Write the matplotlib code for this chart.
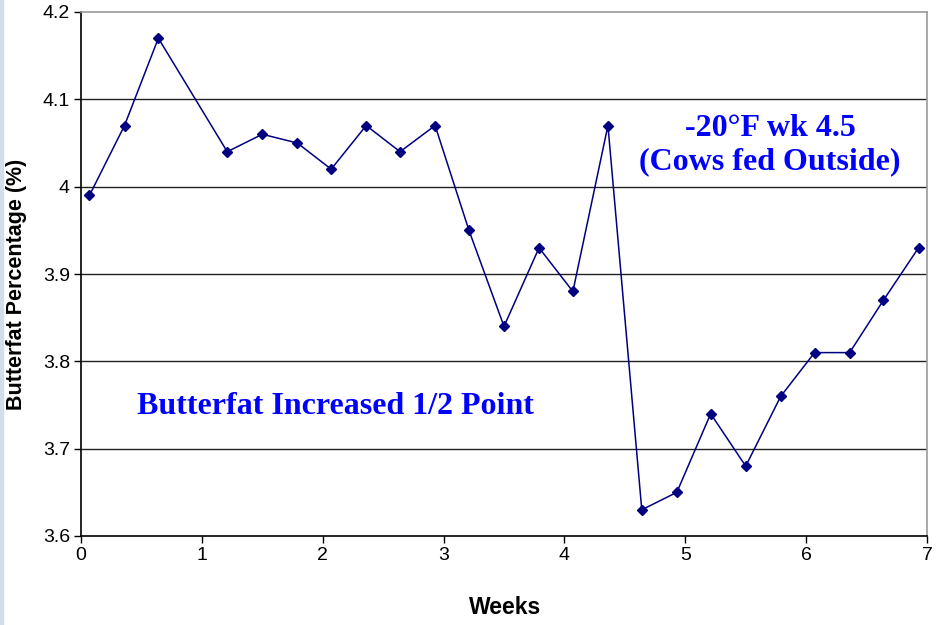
import matplotlib
matplotlib.use("Agg")
import matplotlib.pyplot as plt
from matplotlib.patches import Rectangle

weeks = [0.07, 0.36, 0.64, 1.21, 1.5, 1.79, 2.07, 2.36, 2.64, 2.93, 3.21, 3.5,
         3.79, 4.07, 4.36, 4.64, 4.93, 5.21, 5.5, 5.79, 6.07, 6.36, 6.64, 6.93]
butterfat = [3.99, 4.07, 4.17, 4.04, 4.06, 4.05, 4.02, 4.07, 4.04, 4.07, 3.95, 3.84,
             3.93, 3.88, 4.07, 3.63, 3.65, 3.74, 3.68, 3.76, 3.81, 3.81, 3.87, 3.93]
xticks = [0, 1, 2, 3, 4, 5, 6, 7]
yticks = [3.6, 3.7, 3.8, 3.9, 4.0, 4.1, 4.2]
ytick_labels = ["3.6", "3.7", "3.8", "3.9", "4", "4.1", "4.2"]

fig = plt.figure(figsize=(9.4, 6.25), dpi=100)
fig.patches.append(Rectangle((0, 0), 3 / 940, 1, transform=fig.transFigure,
                             color="#d3dcea", zorder=0))
ax = fig.add_axes([81 / 940, 1 - 536 / 625, (927 - 81) / 940, (536 - 12) / 625])

ax.plot(weeks, butterfat, color="#000080", lw=1.1, marker="D", ms=5.2,
        mfc="#000080", mec="#000080", zorder=3)

ax.set_xlim(0, 7)
ax.set_ylim(3.6, 4.2)
ax.set_xticks(xticks)
ax.set_yticks(yticks)
ax.set_yticklabels(ytick_labels)
for y in yticks[1:-1]:
    ax.axhline(y, color="#222222", lw=1.0, zorder=1)

for s in ["top", "right"]:
    ax.spines[s].set_color("#999999")
    ax.spines[s].set_linewidth(1.2)
for s in ["left", "bottom"]:
    ax.spines[s].set_color("black")
    ax.spines[s].set_linewidth(1.2)

ax.tick_params(direction="out", length=5, width=1, labelsize=14, pad=3)
for lab in ax.get_xticklabels() + ax.get_yticklabels():
    lab.set_family("Liberation Sans")

fig.text(505 / 940, 1 - 608 / 625, "Weeks", ha="center", va="center",
         fontsize=16.5, fontweight="bold", family="Liberation Sans")
fig.text(17 / 940, 1 - 284 / 625, "Butterfat Percentage (%)", ha="center",
         va="center", rotation=90, fontsize=15.5, fontweight="bold",
         family="Liberation Sans")

ax.text(770 / 940, 1 - 145 / 625, "-20°F wk 4.5\n(Cows fed Outside)",
        transform=fig.transFigure, ha="center", va="center", color="#0000ff",
        fontsize=23, fontweight="bold", family="Liberation Serif",
        linespacing=1.22)
ax.text(335 / 940, 1 - 407 / 625, "Butterfat Increased 1/2 Point",
        transform=fig.transFigure, ha="center", va="center", color="#0000ff",
        fontsize=23, fontweight="bold", family="Liberation Serif")

fig.savefig("out.png", dpi=100)
